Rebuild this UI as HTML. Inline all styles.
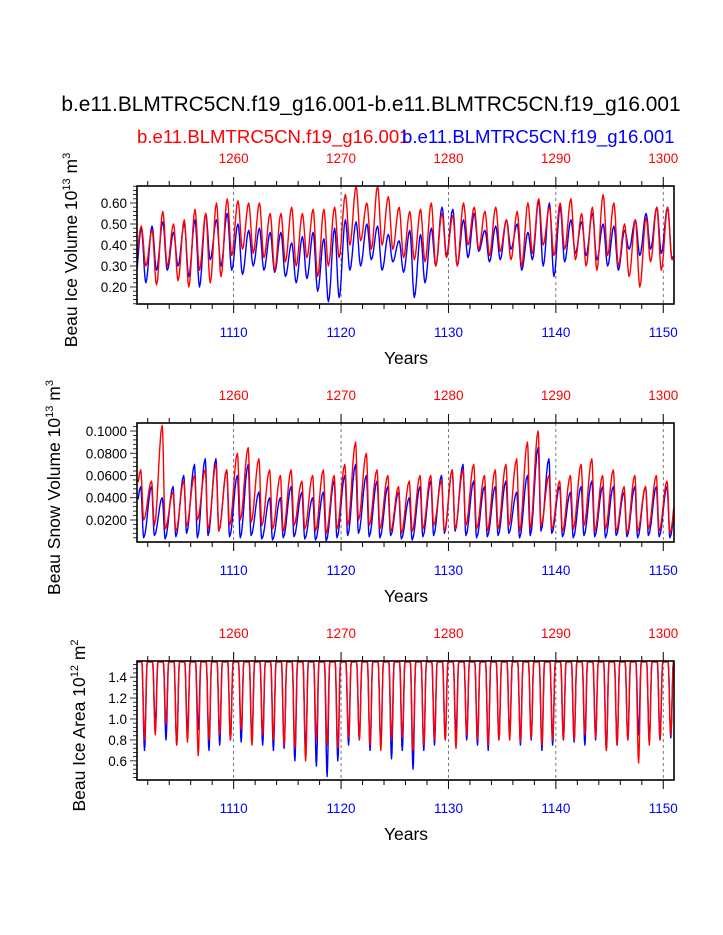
<!DOCTYPE html>
<html><head><meta charset="utf-8"><style>
html,body{margin:0;padding:0;background:#fff;}
svg{display:block;font-family:"Liberation Sans",sans-serif;}
</style></head><body>
<svg id="c" width="723" height="935" viewBox="0 0 723 935"></svg>
<script>
// ---- data (annual extremes), years 1101..1150 ----
const years = Array.from({length:50},(_,i)=>1101+i);
const topTickLabels = ["1260","1270","1280","1290","1300"];
const bottomTickLabels = ["1110","1120","1130","1140","1150"];
const blueIceMax=[.48,.49,.51,.46,.50,.52,.55,.52,.55,.50,.47,.48,.46,.46,.41,.44,.46,.43,.48,.52,.51,.50,.49,.45,.42,.47,.45,.48,.58,.57,.52,.55,.47,.49,.52,.50,.46,.61,.60,.58,.52,.51,.55,.50,.49,.47,.52,.55,.58,.58];
const blueIceMin=[.22,.28,.28,.30,.25,.20,.33,.30,.28,.26,.30,.28,.27,.25,.22,.24,.18,.13,.15,.28,.30,.33,.28,.32,.27,.15,.22,.30,.35,.30,.34,.37,.32,.33,.38,.28,.33,.30,.25,.32,.36,.35,.33,.30,.28,.38,.35,.38,.36,.33];
const redIceMax=[.49,.47,.56,.50,.52,.57,.55,.60,.62,.61,.60,.60,.55,.55,.58,.55,.57,.57,.58,.64,.68,.60,.68,.63,.58,.56,.57,.60,.55,.54,.60,.58,.56,.58,.52,.56,.60,.62,.58,.60,.62,.55,.58,.64,.60,.50,.52,.53,.58,.58];
const redIceMin=[.30,.21,.30,.23,.20,.28,.22,.25,.35,.38,.36,.34,.28,.32,.30,.34,.25,.30,.34,.40,.42,.38,.40,.38,.34,.33,.32,.30,.34,.30,.40,.38,.35,.37,.33,.30,.36,.40,.35,.38,.33,.30,.28,.35,.30,.25,.20,.32,.28,.33];
const blueSnowMax=[.05,.05,.04,.05,.06,.07,.075,.075,.065,.06,.07,.045,.04,.04,.05,.045,.04,.045,.055,.06,.07,.06,.055,.05,.045,.04,.05,.055,.06,.065,.07,.055,.05,.05,.055,.045,.06,.085,.075,.05,.045,.05,.055,.05,.05,.045,.05,.05,.05,.05];
const blueSnowMin=[.004,.006,.003,.005,.008,.004,.006,.01,.005,.004,.006,.003,.002,.004,.005,.003,.002,.001,.004,.006,.008,.005,.004,.006,.003,.002,.005,.006,.008,.01,.006,.004,.005,.006,.008,.004,.006,.01,.008,.005,.004,.006,.005,.004,.006,.005,.004,.006,.005,.004];
const redSnowMax=[.065,.055,.105,.045,.055,.06,.065,.07,.065,.08,.085,.075,.065,.06,.065,.055,.06,.065,.06,.07,.09,.08,.065,.06,.05,.055,.06,.06,.055,.065,.065,.07,.06,.065,.07,.075,.09,.10,.06,.055,.06,.07,.075,.06,.065,.05,.06,.05,.06,.055];
const redSnowMin=[.02,.015,.012,.01,.015,.02,.012,.01,.015,.02,.018,.015,.012,.01,.015,.012,.01,.008,.012,.015,.02,.015,.012,.01,.008,.01,.012,.015,.01,.012,.015,.012,.01,.012,.015,.01,.012,.015,.012,.01,.012,.015,.01,.012,.01,.008,.01,.012,.01,.008];
const blueAreaMax=Array(50).fill(1.545);
const blueAreaMin=[.7,.95,.8,.75,.85,.9,.7,.75,.8,.78,.8,.75,.7,.72,.6,.68,.55,.45,.6,.75,.8,.7,.75,.62,.7,.52,.7,.75,.8,.85,.8,.75,.7,.8,.85,.75,.8,.7,.75,.8,.78,.75,.8,.7,.75,.8,.85,.78,.8,.82];
const redAreaMax=Array(50).fill(1.545);
const redAreaMin=[.8,.85,.95,.75,.78,.65,.8,.85,.8,.9,.75,.85,.8,.75,.72,.6,.8,.75,.72,.82,.8,.75,.7,.8,.82,.7,.75,.8,.8,.72,.85,.8,.75,.8,.8,.78,.82,.75,.8,.8,.8,.85,.82,.7,.75,.8,.58,.75,.8,.85];

const NS="http://www.w3.org/2000/svg";
const svg=document.getElementById('c');
function mk(tag,attrs,parent){const e=document.createElementNS(NS,tag);for(const k in attrs)e.setAttribute(k,attrs[k]);(parent||svg).appendChild(e);return e;}
function txt(s,x,y,attrs,parent){const e=mk('text',Object.assign({x:x,y:y},attrs),parent);e.textContent=s;return e;}

txt("b.e11.BLMTRC5CN.f19_g16.001-b.e11.BLMTRC5CN.f19_g16.001",371,111,{'font-size':20.9,'text-anchor':'middle',});
txt("b.e11.BLMTRC5CN.f19_g16.001",137,143,{'font-size':18.6,fill:'#f00',});
txt("b.e11.BLMTRC5CN.f19_g16.001",402,143,{'font-size':18.6,fill:'#00f',});

const X0=137,X1=674,T0=1101,T1=1151;
const xs=t=>X0+(t-T0)/(T1-T0)*(X1-X0);

function ease(a,b,f){return a+(b-a)*(0.5-0.5*Math.cos(Math.PI*f));}
function buildPath(ext,ys){
  ext.sort((a,b)=>a[0]-b[0]);
  let d='';
  for(let i=0;i<ext.length-1;i++){
    const [ta,va]=ext[i],[tb,vb]=ext[i+1];
    const n=6;
    for(let k=(i?1:0);k<=n;k++){const t=ta+(tb-ta)*k/n;const v=ease(va,vb,k/n);
      if(t<T0||t>T1)continue;
      d+=(d?'L':'M')+xs(t).toFixed(1)+','+ys(v).toFixed(1);}
  }
  return d;
}
function extVol(mx,mn,pk,tr){const e=[];years.forEach((y,i)=>{e.push([y+pk,mx[i]]);e.push([y+tr,mn[i]]);});e.push([T0-1+tr,mn[0]]);e.push([T1+pk,mx[49]]);return e;}
function extArea(mx,mn){const e=[];years.forEach((y,i)=>{e.push([y+0.1,mx[i]]);e.push([y+0.45,mx[i]]);e.push([y+0.7,mn[i]]);e.push([y+0.95,mx[i]]);});e.push([T0-0.2,mx[0]]);e.push([T1+0.1,mx[49]]);return e;}

function panel(o){
  const {top,bot,vmin,vmax,major,minor,fmt,title,sup,unit,name}=o;
  const g=mk('g',{});
  const ys=v=>bot-(v-vmin)/(vmax-vmin)*(bot-top);
  const clipId='clip'+name;
  const cp=mk('clipPath',{id:clipId},g);mk('rect',{x:X0,y:top,width:X1-X0,height:bot-top},cp);
  for(let y=1110;y<=1150;y+=10){const l=mk('line',{x1:xs(y),x2:xs(y),y1:top,y2:bot,stroke:'#555','stroke-width':0.8,'stroke-dasharray':'3,3'},g);
    }
  const cg=mk('g',{'clip-path':`url(#${clipId})`},g);
  o.series.forEach(s=>{const p=mk('path',{d:buildPath(s.ext,ys),fill:'none',stroke:s.color,'stroke-width':1.4,'stroke-linejoin':'round'},cg);
    });
  const fr=mk('rect',{x:X0,y:top,width:X1-X0,height:bot-top,fill:'none',stroke:'#000','stroke-width':1.6},g);
  
  for(let y=1102;y<=1150;y+=2){const maj=y%10==0;const L=maj?9:5;
    mk('line',{x1:xs(y),x2:xs(y),y1:top,y2:top-L,stroke:'#000','stroke-width':1},g);
    mk('line',{x1:xs(y),x2:xs(y),y1:bot,y2:bot+L,stroke:'#000','stroke-width':1},g);}
  topTickLabels.forEach((s,i)=>{const e=txt(s,xs(1110+10*i),top-23,{'font-size':13.5,'text-anchor':'middle',fill:'#f00'},g);
    });
  bottomTickLabels.forEach((s,i)=>{const e=txt(s,xs(1110+10*i),bot+33,{'font-size':13.5,'text-anchor':'middle',fill:'#00f'},g);
    });
  const xt=txt('Years',406,bot+60,{'font-size':17.5,'text-anchor':'middle'},g);
  
  for(let v=Math.ceil(vmin/minor)*minor;v<=vmax+1e-9;v+=minor){const isMaj=Math.abs(v/major-Math.round(v/major))<1e-6;
    mk('line',{x1:X0,x2:X0-(isMaj?7:4),y1:ys(v),y2:ys(v),stroke:'#000','stroke-width':0.8},g);}
  for(let v=Math.ceil(vmin/major)*major;v<=vmax+1e-9;v+=major){
    const e=txt(fmt(v),X0-10,ys(v)+5,{'font-size':13.5,'text-anchor':'end'},g);
    }
  const cy=(top+bot)/2+5;
  const t=mk('text',{transform:`translate(${o.tx},${cy}) rotate(-90)`,'font-size':17.5,'text-anchor':'middle'},g);
  
  t.appendChild(document.createTextNode(title+' 10'));
  const s1=mk('tspan',{'font-size':11,dy:-7},t);s1.textContent=sup;
  const s2=mk('tspan',{dy:7},t);s2.textContent=' m';
  const s3=mk('tspan',{'font-size':11,dy:-7},t);s3.textContent=unit;
}

panel({name:'ice-volume-panel',top:186,bot:304,vmin:0.119,vmax:0.681,major:0.1,minor:0.02,fmt:v=>v.toFixed(2),
  title:'Beau Ice Volume',sup:'13',unit:'3',tx:77,
  series:[{name:'blue-ice-volume-line',color:'#00f',ext:extVol(blueIceMax,blueIceMin,0.4,0.82)},
          {name:'red-ice-volume-line',color:'#f00',ext:extVol(redIceMax,redIceMin,0.4,0.82)}]});
panel({name:'snow-volume-panel',top:423,bot:542,vmin:0.0002,vmax:0.1072,major:0.02,minor:0.004,fmt:v=>v.toFixed(4),
  title:'Beau Snow Volume',sup:'13',unit:'3',tx:60,
  series:[{name:'blue-snow-volume-line',color:'#00f',ext:extVol(blueSnowMax,blueSnowMin,0.35,0.62)},
          {name:'red-snow-volume-line',color:'#f00',ext:extVol(redSnowMax,redSnowMin,0.35,0.62)}]});
panel({name:'ice-area-panel',top:661,bot:780,vmin:0.417,vmax:1.554,major:0.2,minor:0.04,fmt:v=>v.toFixed(1),
  title:'Beau Ice Area',sup:'12',unit:'2',tx:85,
  series:[{name:'blue-ice-area-line',color:'#00f',ext:extArea(blueAreaMax,blueAreaMin)},
          {name:'red-ice-area-line',color:'#f00',ext:extArea(redAreaMax,redAreaMin)}]});
</script>
</body></html>
